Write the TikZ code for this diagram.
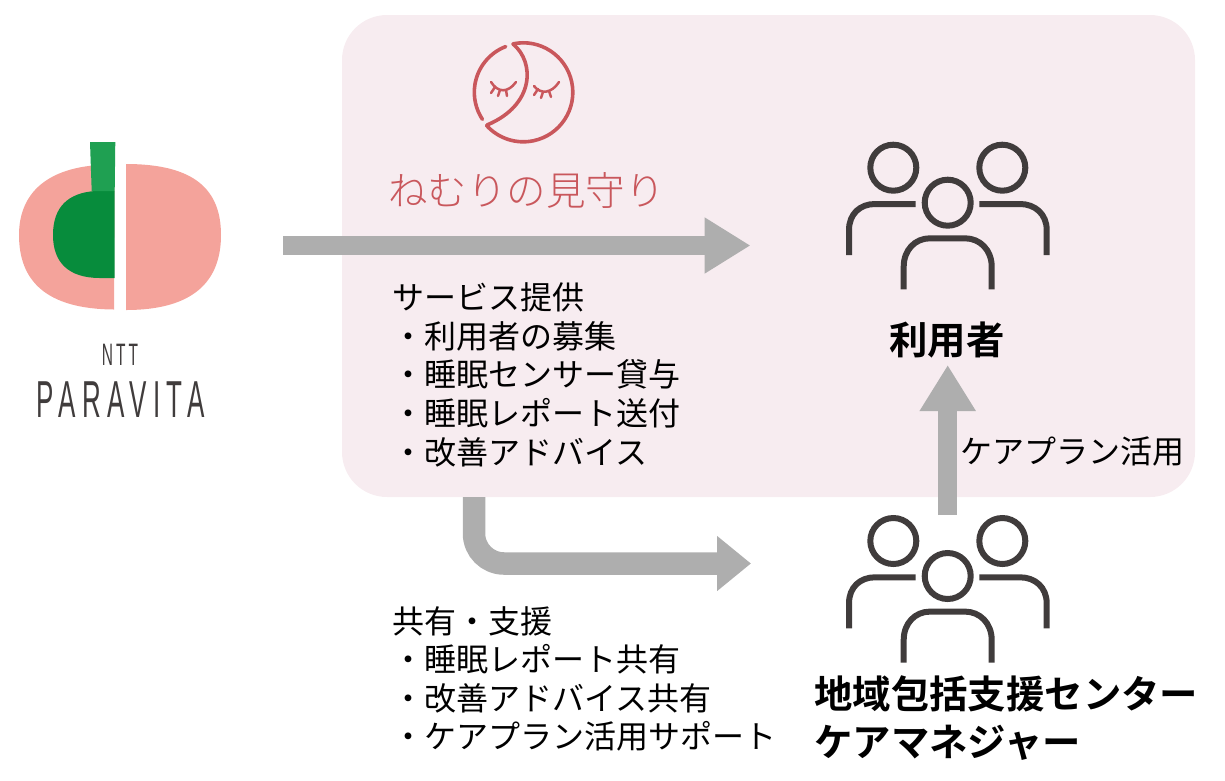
\documentclass[tikz,border=0pt]{standalone}
\usepackage{fontspec}
\setmainfont[BoldFont={Noto Sans CJK JP Bold}]{Noto Sans CJK JP}
\newfontfamily\brandfont{Noto Sans CJK JP Light}
\newfontfamily\logofont[FakeStretch=0.5,LetterSpace=10]{Liberation Sans}
\newfontfamily\logowidefont[FakeStretch=0.5,LetterSpace=12.5]{Liberation Sans}
\usetikzlibrary{arrows.meta}
\definecolor{panelpink}{HTML}{F7ECF0}
\definecolor{arrowgray}{HTML}{AEAEAE}
\definecolor{logopink}{HTML}{F4A39B}
\definecolor{stemgreen}{HTML}{1FA052}
\definecolor{deepgreen}{HTML}{078C3C}
\definecolor{moonred}{HTML}{C9575C}
\definecolor{peoplecol}{HTML}{403C3C}
\tikzset{
  x=1pt,y=-1pt,
  blockarrow/.style={draw=arrowgray,line width=19pt,-{Triangle[length=46pt,width=53pt,fill=arrowgray]}},
  bodytext/.style={anchor=north west,inner sep=0pt,align=left,font=\fontsize{32}{38.7}\selectfont,text=black},
  boldlabel/.style={inner sep=0pt,font=\fontsize{38.4}{46}\selectfont\bfseries,text=black},
  moonline/.style={draw=moonred,line width=3.6pt,line cap=round},
  lashline/.style={draw=moonred,line width=2.5pt,line cap=round},
  peopleline/.style={draw=peoplecol,line width=6pt},
  people/.pic={
    \draw[peopleline] (893.3,167.7) circle[radius=23];
    \draw[peopleline] (1002.3,167.7) circle[radius=23];
    \draw[peopleline] (947.7,202.7) circle[radius=23];
    \draw[peopleline] (849,255) -- (849,230) .. controls (849,214) and (860,204) .. (875,204) -- (915.7,204);
    \draw[peopleline] (1046.7,255) -- (1046.7,230) .. controls (1046.7,214) and (1035,204) .. (1020,204) -- (979.3,204);
    \draw[peopleline] (903.7,289.3) -- (903.7,266.7) .. controls (903.7,250) and (915,238.3) .. (930,238.3) -- (965,238.3) .. controls (980,238.3) and (991.7,250) .. (991.7,266.7) -- (991.7,289.3);
  }
}
\begin{document}
\begin{tikzpicture}
\useasboundingbox (0,0) rectangle (1225,780);
% panel
\fill[panelpink,rounded corners=45pt] (342,15) rectangle (1195,497);
% logo
\fill[logopink] (114.5,164.5) .. controls (45,164) and (19,195) .. (19,235) .. controls (19,280) and (45,309) .. (114,309.5) -- cycle;
\fill[logopink] (126,164) .. controls (195,164) and (221,190) .. (221,235) .. controls (221,280) and (195,310) .. (126,310) -- cycle;
\fill[deepgreen] (114.5,191) -- (95,191) .. controls (68,193) and (53,207) .. (53,235) .. controls (53,262) and (68,278) .. (100,278) -- (114.5,278) -- cycle;
\fill[stemgreen] (90,142) -- (115.3,142) -- (114.7,191) -- (91.7,191) -- cycle;
\node[inner sep=0pt,text=peoplecol,font=\fontsize{31}{33}\selectfont\logofont] (ntt) at (120,355) {NTT};
\node[inner sep=0pt,text=peoplecol,font=\fontsize{52}{54}\selectfont\logowidefont] (paravita) at (120.5,400) {PARAVITA};
% moon
\coordinate (mc) at (523.3,92.3);
\draw[moonline] (mc) ++(249:49) arc[start angle=249,end angle=146.5,radius=49];
\draw[moonline] (mc) ++(258:49.5) arc[start angle=258,end angle=498,radius=49.5];
\draw[moonline] (513,44) .. controls (535,62) and (535,105) .. (487,125);
% eyelashes
\draw[lashline] (491,82) .. controls (498,93) and (508,93) .. (516,82);
\draw[lashline] (495,87) -- (491,93);
\draw[lashline] (500,90) -- (498,96);
\draw[lashline] (506,90) -- (507,96);
\draw[lashline] (534,86) .. controls (541,95) and (552,93) .. (559,82);
\draw[lashline] (538,89) -- (534,95);
\draw[lashline] (543,92) -- (541,98);
\draw[lashline] (549,91) -- (551,97);
\node[inner sep=0pt,text=moonred,font=\fontsize{39.5}{41}\selectfont\brandfont] (brand) at (526.5,190) {ねむりの見守り};
% people
\pic {people};
\pic[yshift=-373.3pt] {people};
% labels
\node[bodytext] (service) at (392,282.5) {サービス提供\\・利用者の募集\\・睡眠センサー貸与\\・睡眠レポート送付\\・改善アドバイス};
\node[boldlabel] (user) at (947,339.5) {利用者};
\node[inner sep=0pt,font=\fontsize{32}{38}\selectfont] (careuse) at (1072,451) {ケアプラン活用};
\node[bodytext,font=\fontsize{32}{38.4}\selectfont] (share) at (392,606.5) {共有・支援\\・睡眠レポート共有\\・改善アドバイス共有\\・ケアプラン活用サポート};
\node[boldlabel,anchor=north west,align=left,font=\fontsize{38.4}{48.5}\selectfont\bfseries] (center) at (814,675) {地域包括支援センター\\ケアマネジャー};
% arrows
\coordinate (a1s) at (283,245.5);
\coordinate (a1e) at (750.5,245.5);
\coordinate (a2s) at (474,497);
\coordinate (a2c) at (474,563.5);
\coordinate (a2e) at (751,563.5);
\coordinate (a3s) at (947.7,515);
\coordinate (a3e) at (947.7,365);
\draw[blockarrow] (a1s) -- (a1e);
\draw[blockarrow,line width=22.5pt,-{Triangle[length=34pt,width=53pt,fill=arrowgray]},rounded corners=30pt] (a2s) -- (a2c) -- (a2e);
\draw[blockarrow] (a3s) -- (a3e);
\end{tikzpicture}
\end{document}
